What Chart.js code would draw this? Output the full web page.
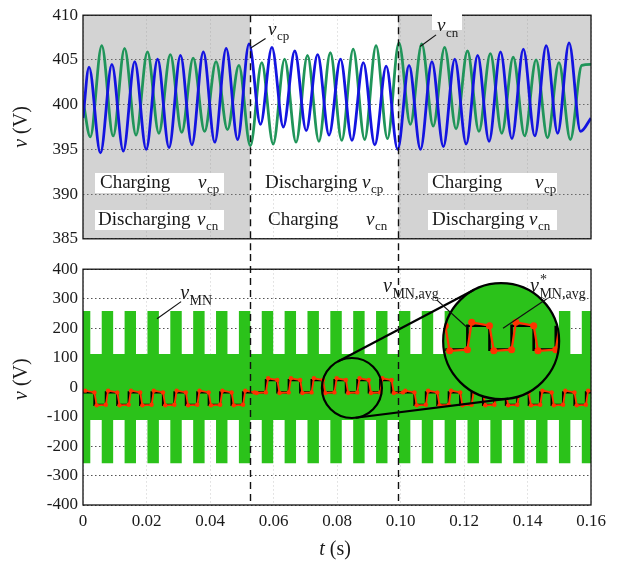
<!DOCTYPE html>
<html>
<head>
<meta charset="utf-8">
<script src="https://cdn.jsdelivr.net/npm/chart.js@4.4.1/dist/chart.umd.min.js"></script>
<style>
  html, body { margin: 0; padding: 0; background: #fff; }
  #wrap { position: relative; width: 623px; height: 568px; overflow: hidden; }
  canvas { position: absolute; left: 0; }
  #capChart { top: 0; }
  #mnChart { top: 254px; }
</style>
</head>
<body>
<div id="wrap">
  <canvas id="capChart" width="623" height="254" style="width:623px;height:254px"></canvas>
  <canvas id="mnChart" width="623" height="314" style="width:623px;height:314px"></canvas>
</div>
<script>
// ---- data ----
const timeTicks = [0, 0.02, 0.04, 0.06, 0.08, 0.10, 0.12, 0.14, 0.16];
const capTicks = [385, 390, 395, 400, 405, 410];
const mnTicks = [-400, -300, -200, -100, 0, 100, 200, 300, 400];
const modeChange = [0.0526, 0.0992];   // dashed lines (s)

// capacitor ripple: time of each v_cp peak (s)
const rippleT = [0.0019, 0.0091, 0.0163, 0.0235, 0.0307, 0.0379, 0.0451, 0.0523, 0.0595, 0.0667, 0.0739,
                 0.0811, 0.0883, 0.0955, 0.1027, 0.1099, 0.1171, 0.1243, 0.1315, 0.1387, 0.1459, 0.1531];
const rippleHalf = 0.0036;
const vcnLag = 0.0040;
const vcpPeak   = [404.2, 404.5, 404.8, 405.1, 405.5, 405.9, 406.3, 406.8, 406.4, 406.0, 405.6,
                   405.1, 404.7, 404.3, 404.4, 404.8, 405.1, 405.5, 405.9, 406.2, 406.6, 406.9];
const vcpTrough = [394.6, 394.8, 395.0, 395.2, 395.5, 395.8, 396.1, 397.8, 397.5, 397.1, 396.6,
                   396.0, 395.5, 395.0, 395.0, 395.3, 395.6, 395.9, 396.2, 396.5, 396.8, 397.0];
const vcnTrough = [396.4, 396.5, 396.6, 396.8, 396.9, 397.0, 397.2, 395.4, 395.6, 395.8, 395.9,
                   396.0, 396.1, 396.2, 397.8, 397.6, 397.3, 397.0, 396.8, 396.5, 396.3, 396.1];
const vcnPeak   = [406.6, 406.3, 405.9, 405.6, 405.2, 404.8, 404.4, 404.7, 405.1, 405.5, 405.8,
                   406.2, 406.6, 406.9, 406.8, 406.4, 406.0, 405.7, 405.3, 405.0, 404.7, 404.4];
const vcpEnds = [398.5, 398.5];
const vcnEnds = [400.5, 404.5];

// v_MN switching band: centre time of each tall block (s)
const vmnBlockT = [0.0005, 0.0077, 0.0149, 0.0221, 0.0293, 0.0365, 0.0437, 0.0509, 0.0581, 0.0653, 0.0725, 0.0797,
                   0.0869, 0.0941, 0.1013, 0.1085, 0.1157, 0.1229, 0.1301, 0.1373, 0.1445, 0.1517, 0.1589];
const vmnBlockWidth = 0.0036;
const vmnOuter = 258;
const vmnInner = 112;

// v_MN,avg square wave: start time of each high half-cycle (s), levels per mode
const avgHighT = [0.0000, 0.0072, 0.0144, 0.0216, 0.0288, 0.0360, 0.0432, 0.0504, 0.0576, 0.0648, 0.0720, 0.0792,
                  0.0864, 0.0936, 0.1008, 0.1080, 0.1152, 0.1224, 0.1296, 0.1368, 0.1440, 0.1512, 0.1584];
const avgHalf = 0.0036;
const avgHigh = [-18, 24, -18];
const avgLow = [-60, -18, -60];
const avgOvershoot = 6;

// magnifier (data coords)
const zoomSmall = { t: 0.0847, v: -3 };
const zoomBig = { t: 0.1317, v: 156 };

const SERIF = "'Liberation Serif', 'DejaVu Serif', serif";
const TXT = '#1a1a1a';

// ---- build point lists ----
const vcpPts = [{ x: 0, y: vcpEnds[0] }];
const vcnPts = [{ x: 0, y: vcnEnds[0] }];
rippleT.forEach((t, k) => {
  vcpPts.push({ x: t, y: vcpPeak[k] }, { x: t + rippleHalf, y: vcpTrough[k] });
  vcnPts.push({ x: t + vcnLag - rippleHalf, y: vcnTrough[k] }, { x: t + vcnLag, y: vcnPeak[k] });
});
vcpPts.push({ x: 0.16, y: vcpEnds[1] });
vcnPts.push({ x: 0.16, y: vcnEnds[1] });

const bandUp = [], bandDn = [];
vmnBlockT.forEach(t => {
  bandUp.push({ x: t - vmnBlockWidth / 2, y: vmnOuter }, { x: t + vmnBlockWidth / 2, y: vmnInner });
  bandDn.push({ x: t - vmnBlockWidth / 2, y: -vmnOuter }, { x: t + vmnBlockWidth / 2, y: -vmnInner });
});

function modeOf(t) { return t < modeChange[0] ? 0 : (t < modeChange[1] ? 1 : 2); }
const refPts = [], avgPts = [];
avgHighT.forEach(t => {
  const m1 = modeOf(t + 0.0001), m2 = modeOf(t + avgHalf + 0.0001);
  refPts.push({ x: t, y: avgHigh[m1] }, { x: t + avgHalf, y: avgLow[m2] });
  avgPts.push({ x: t + 0.0007, y: avgHigh[m1] + avgOvershoot }, { x: t + avgHalf, y: avgHigh[m1] },
              { x: t + avgHalf + 0.0007, y: avgLow[m2] - 2 }, { x: t + 2 * avgHalf, y: avgLow[m2] });
});

// ---- drawing helpers ----
function drawVar(ctx, x, y, sub, size, sup) {
  ctx.font = 'italic ' + size + 'px ' + SERIF;
  ctx.fillText('v', x, y);
  const w = ctx.measureText('v').width;
  ctx.font = Math.round(size * 0.68) + 'px ' + SERIF;
  ctx.fillText(sub, x + w + 0.5, y + size * 0.28);
  if (sup) ctx.fillText(sup, x + w + 1, y - size * 0.42);
  return w + ctx.measureText(sub).width;
}

function frame(chart) {
  const a = chart.chartArea, ctx = chart.ctx;
  ctx.save();
  ctx.strokeStyle = '#111';
  ctx.lineWidth = 1.3;
  ctx.strokeRect(a.left, a.top, a.right - a.left, a.bottom - a.top);
  ctx.restore();
}

function dashed(chart, y0, y1) {
  const ctx = chart.ctx, xs = chart.scales.x;
  ctx.save();
  ctx.strokeStyle = '#111';
  ctx.lineWidth = 1.4;
  ctx.setLineDash([7, 5]);
  modeChange.forEach(t => {
    const x = Math.round(xs.getPixelForValue(t)) + 0.5;
    ctx.beginPath(); ctx.moveTo(x, y0); ctx.lineTo(x, y1); ctx.stroke();
  });
  ctx.restore();
}

function yTitle(ctx, cx, cy) {
  ctx.save();
  ctx.translate(cx, cy);
  ctx.rotate(-Math.PI / 2);
  ctx.fillStyle = TXT;
  ctx.textBaseline = 'middle';
  ctx.font = 'italic 20px ' + SERIF;
  const w1 = ctx.measureText('v').width;
  ctx.font = '20px ' + SERIF;
  const w2 = ctx.measureText(' (V)').width;
  ctx.font = 'italic 20px ' + SERIF;
  ctx.fillText('v', -(w1 + w2) / 2, 0);
  ctx.font = '20px ' + SERIF;
  ctx.fillText(' (V)', -(w1 + w2) / 2 + w1, 0);
  ctx.restore();
}

function leader(ctx, xs, ys, a, b) {
  ctx.beginPath();
  ctx.moveTo(xs.getPixelForValue(a[0]), ys.getPixelForValue(a[1]));
  ctx.lineTo(xs.getPixelForValue(b[0]), ys.getPixelForValue(b[1]));
  ctx.stroke();
}

// ---- top panel plugin ----
const capDecor = {
  id: 'capDecor',
  beforeDraw(chart) {
    const a = chart.chartArea, ctx = chart.ctx, xs = chart.scales.x;
    const x1 = xs.getPixelForValue(modeChange[0]), x2 = xs.getPixelForValue(modeChange[1]);
    ctx.save();
    ctx.fillStyle = '#d3d3d3';
    ctx.fillRect(a.left, a.top, x1 - a.left, a.bottom - a.top);
    ctx.fillRect(x2, a.top, a.right - x2, a.bottom - a.top);
    ctx.restore();
  },
  afterDraw(chart) {
    const ctx = chart.ctx, xs = chart.scales.x, ys = chart.scales.y;
    dashed(chart, chart.chartArea.top, chart.height);
    frame(chart);
    yTitle(ctx, 22, (chart.chartArea.top + chart.chartArea.bottom) / 2);

    ctx.save();
    ctx.fillStyle = '#fff';
    // boxes behind state text in shaded regions
    [[95, 173], [95, 210], [428, 173], [428, 210]].forEach(b => ctx.fillRect(b[0], b[1], 129, 20));
    ctx.fillRect(432, 12, 30, 18);
    ctx.fillStyle = TXT;
    ctx.textBaseline = 'alphabetic';
    const rows = [
      ['Charging', 100, 188, 'cp', 198], ['Discharging', 98, 225, 'cn', 197],
      ['Discharging', 265, 188, 'cp', 362], ['Charging', 268, 225, 'cn', 366],
      ['Charging', 432, 188, 'cp', 535], ['Discharging', 432, 225, 'cn', 529]
    ];
    rows.forEach(r => {
      ctx.font = '19px ' + SERIF;
      ctx.fillText(r[0], r[1], r[2]);
      drawVar(ctx, r[4], r[2], r[3], 19);
    });
    // curve labels
    drawVar(ctx, xs.getPixelForValue(0.0583), ys.getPixelForValue(407.8), 'cp', 19);
    drawVar(ctx, xs.getPixelForValue(0.1115), ys.getPixelForValue(408.2), 'cn', 19);
    ctx.strokeStyle = '#111';
    ctx.lineWidth = 1.2;
    leader(ctx, xs, ys, [0.0575, 407.4], [0.0527, 406.3]);
    leader(ctx, xs, ys, [0.1112, 407.8], [0.1062, 406.5]);
    ctx.restore();
  }
};

// ---- bottom panel plugin ----
function tangentPts(c1, r1, c2, r2) {
  const dx = c2.x - c1.x, dy = c2.y - c1.y, D = Math.hypot(dx, dy);
  const th = Math.atan2(dy, dx), ph = Math.acos((r1 - r2) / D);
  return [th + ph, th - ph].map(a => [
    { x: c1.x + r1 * Math.cos(a), y: c1.y + r1 * Math.sin(a) },
    { x: c2.x + r2 * Math.cos(a), y: c2.y + r2 * Math.sin(a) }
  ]);
}

const mnDecor = {
  id: 'mnDecor',
  afterDatasetsDraw(chart) {
    const ctx = chart.ctx, xs = chart.scales.x, ys = chart.scales.y;
    const c1 = { x: xs.getPixelForValue(zoomSmall.t), y: ys.getPixelForValue(zoomSmall.v) };
    const c2 = { x: xs.getPixelForValue(zoomBig.t), y: ys.getPixelForValue(zoomBig.v) };
    const r1 = 30, r2 = 58, m = r2 / r1;
    const tr = p => ({ x: c2.x + (xs.getPixelForValue(p.x) - c1.x) * m, y: c2.y + (ys.getPixelForValue(p.y) - c1.y) * m });
    const near = p => Math.abs(p.x - zoomSmall.t) < 0.012;

    ctx.save();
    ctx.beginPath(); ctx.arc(c2.x, c2.y, r2, 0, Math.PI * 2); ctx.clip();
    ctx.fillStyle = '#2bc21a';
    ctx.fillRect(c2.x - r2, c2.y - r2, 2 * r2, 2 * r2);
    const ref = refPts.filter(near).map(tr);
    ctx.strokeStyle = '#000'; ctx.lineWidth = 2.6;
    ctx.beginPath();
    ref.forEach((p, i) => {
      if (i === 0) ctx.moveTo(p.x, p.y);
      else { ctx.lineTo(p.x, ref[i - 1].y); ctx.lineTo(p.x, p.y); }
    });
    ctx.stroke();
    const avg = avgPts.filter(near).map(tr);
    ctx.strokeStyle = '#ff3300'; ctx.lineWidth = 2.2;
    ctx.beginPath();
    avg.forEach((p, i) => (i === 0 ? ctx.moveTo(p.x, p.y) : ctx.lineTo(p.x, p.y)));
    ctx.stroke();
    ctx.fillStyle = '#ff3300';
    avg.forEach(p => { ctx.beginPath(); ctx.arc(p.x, p.y, 3.5, 0, Math.PI * 2); ctx.fill(); });
    ctx.restore();

    ctx.save();
    ctx.strokeStyle = '#000';
    ctx.lineWidth = 2.2;
    ctx.beginPath(); ctx.arc(c1.x, c1.y, r1, 0, Math.PI * 2); ctx.stroke();
    ctx.beginPath(); ctx.arc(c2.x, c2.y, r2, 0, Math.PI * 2); ctx.stroke();
    tangentPts(c1, r1, c2, r2).forEach(s => {
      ctx.beginPath(); ctx.moveTo(s[0].x, s[0].y); ctx.lineTo(s[1].x, s[1].y); ctx.stroke();
    });
    ctx.restore();
  },
  afterDraw(chart) {
    const ctx = chart.ctx, xs = chart.scales.x, ys = chart.scales.y, a = chart.chartArea;
    dashed(chart, 0, a.bottom);
    frame(chart);
    yTitle(ctx, 22, ys.getPixelForValue(0) - 8);

    ctx.save();
    ctx.fillStyle = TXT;
    ctx.textBaseline = 'alphabetic';
    drawVar(ctx, xs.getPixelForValue(0.0306), ys.getPixelForValue(298), 'MN', 20);
    drawVar(ctx, xs.getPixelForValue(0.0945), ys.getPixelForValue(322), 'MN,avg', 20);
    drawVar(ctx, xs.getPixelForValue(0.1408), ys.getPixelForValue(322), 'MN,avg', 20, '*');
    ctx.strokeStyle = '#111';
    ctx.lineWidth = 1.2;
    leader(ctx, xs, ys, [0.0309, 290], [0.0233, 232]);
    leader(ctx, xs, ys, [0.1115, 295], [0.1209, 203]);
    leader(ctx, xs, ys, [0.1461, 300], [0.1323, 200]);

    // x axis title
    ctx.font = 'italic 20px ' + SERIF;
    const w1 = ctx.measureText('t').width;
    ctx.font = '20px ' + SERIF;
    const w2 = ctx.measureText(' (s)').width;
    const cx = (a.left + a.right) / 2 - 2;
    ctx.font = 'italic 20px ' + SERIF;
    ctx.fillText('t', cx - (w1 + w2) / 2, chart.height - 13);
    ctx.font = '20px ' + SERIF;
    ctx.fillText(' (s)', cx - (w1 + w2) / 2 + w1, chart.height - 13);
    ctx.restore();
  }
};

const tickFont = { family: SERIF, size: 17 };
const dotted = [1.5, 2.5];

new Chart(document.getElementById('capChart'), {
  type: 'line',
  data: {
    datasets: [
      { label: 'v_cp', data: vcpPts, borderColor: '#1414e0', borderWidth: 2.8, pointRadius: 0, cubicInterpolationMode: 'monotone' },
      { label: 'v_cn', data: vcnPts, borderColor: '#20955a', borderWidth: 2.8, pointRadius: 0, cubicInterpolationMode: 'monotone' }
    ]
  },
  options: {
    responsive: false,
    animation: false,
    events: [],
    layout: { padding: { top: 10, right: 32, left: 0, bottom: 0 } },
    plugins: { legend: { display: false }, tooltip: { enabled: false } },
    scales: {
      x: {
        type: 'linear', min: 0, max: 0.16,
        afterBuildTicks: s => { s.ticks = timeTicks.map(v => ({ value: v })); },
        ticks: { display: false },
        grid: { color: 'rgba(140,140,140,0.3)', drawTicks: false, lineWidth: 1 },
        border: { display: false, dash: dotted },
        afterFit: s => { s.height = 15; }
      },
      y: {
        min: 385, max: 410,
        afterBuildTicks: s => { s.ticks = capTicks.map(v => ({ value: v })); },
        ticks: { font: tickFont, color: TXT, padding: 5 },
        grid: { color: 'rgba(60,60,60,0.7)', drawTicks: false, lineWidth: 1 },
        border: { display: false, dash: dotted },
        afterFit: s => { s.width = 83; }
      }
    }
  },
  plugins: [capDecor]
});

new Chart(document.getElementById('mnChart'), {
  type: 'line',
  data: {
    datasets: [
      { label: 'band+', data: bandUp, order: 3, stepped: true, borderWidth: 0, pointRadius: 0, fill: '+1', backgroundColor: '#2bc21a' },
      { label: 'band-', data: bandDn, order: 4, stepped: true, borderWidth: 0, pointRadius: 0, fill: false },
      { label: 'v*_MN,avg', data: refPts, order: 2, stepped: true, borderColor: '#000', borderWidth: 2.2, pointRadius: 0, fill: false },
      { label: 'v_MN,avg', data: avgPts, order: 1, borderColor: '#ff3300', borderWidth: 1.8, pointRadius: 2.2,
        pointBackgroundColor: '#ff3300', pointBorderWidth: 0, fill: false }
    ]
  },
  options: {
    responsive: false,
    animation: false,
    events: [],
    layout: { padding: { top: 15, right: 32, left: 0, bottom: 0 } },
    plugins: { legend: { display: false }, tooltip: { enabled: false } },
    scales: {
      x: {
        type: 'linear', min: 0, max: 0.16,
        afterBuildTicks: s => { s.ticks = timeTicks.map(v => ({ value: v })); },
        ticks: { font: tickFont, color: TXT, padding: 6, maxRotation: 0,
                 callback: v => (v === 0 ? '0' : v.toFixed(2)) },
        grid: { color: 'rgba(140,140,140,0.3)', drawTicks: false, lineWidth: 1 },
        border: { display: false, dash: dotted },
        afterFit: s => { s.height = 63; }
      },
      y: {
        min: -400, max: 400,
        afterBuildTicks: s => { s.ticks = mnTicks.map(v => ({ value: v })); },
        ticks: { font: tickFont, color: TXT, padding: 5 },
        grid: { color: 'rgba(40,40,40,0.8)', drawTicks: false, lineWidth: 1 },
        border: { display: false, dash: dotted },
        afterFit: s => { s.width = 83; }
      }
    }
  },
  plugins: [mnDecor]
});
</script>
</body>
</html>
